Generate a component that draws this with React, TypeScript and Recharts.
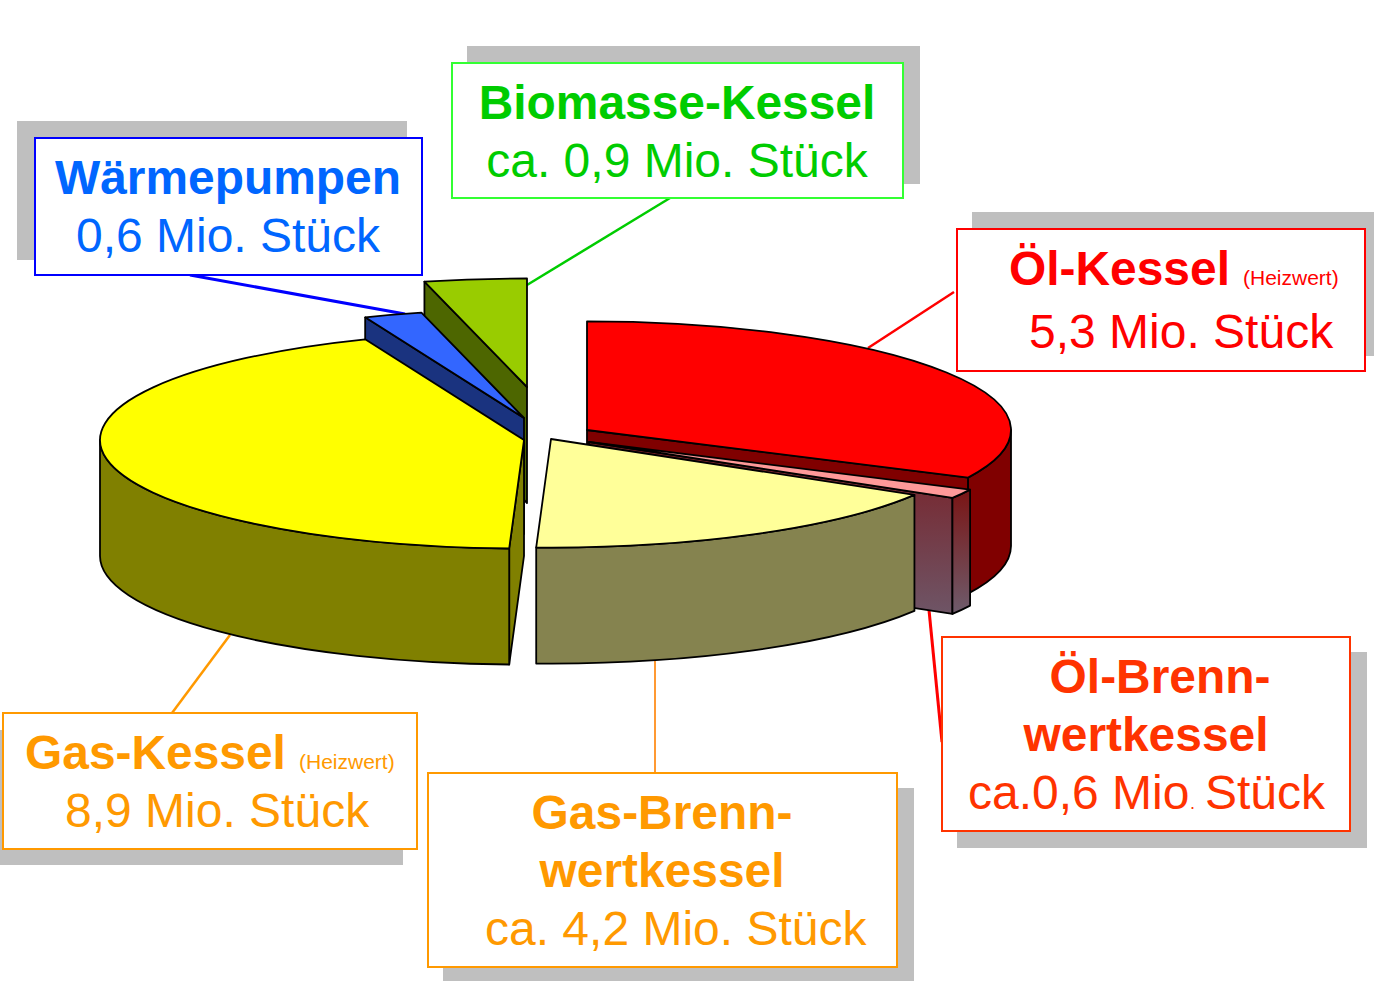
import { PieChart, Pie } from 'recharts';

// share of the circle each slice takes in the picture, in degrees (the drawing is not true to the counts)
const categories = ['Öl-Kessel', 'Öl-Brennwertkessel', 'Gas-Brennwertkessel', 'Gas-Kessel', 'Wärmepumpen', 'Biomasse-Kessel'];
const drawnShares = [116, 5, 61, 156, 8, 14];
const stueckLabels = ['5,3 Mio. Stück', 'ca.0,6 Mio', 'ca. 4,2 Mio. Stück', '8,9 Mio. Stück', '0,6 Mio. Stück', 'ca. 0,9 Mio. Stück'];

const chartData = categories.map((name, i) => ({ name, value: drawnShares[i] }));

const TOP_FILLS = ['#ff0000', '#ff9999', '#ffff99', '#ffff00', '#3366ff', '#99cc00'];
const WALL_FILLS = ['#800000', 'url(#pinkFace)', '#85834f', '#808000', '#1a337f', '#4d6600'];
// how far each slice is pulled out of the pie
const EXPLODE = [[62, -10], [64, 2], [26, -1], [-1, 0], [-1, -22], [2, -53]];
const BACK_TO_FRONT = [5, 4, 3, 0, 1, 2];

const SQUASH = 0.256;
const DEPTH = 116;
const FONT = '"Liberation Sans", Arial, sans-serif';

function Slice3D(props: any) {
  const { cx, cy, outerRadius, startAngle, endAngle, index } = props;
  const rx = outerRadius;
  const ry = outerRadius * SQUASH;
  const ax = cx + EXPLODE[index][0];
  const ay = cy + EXPLODE[index][1];
  const pt = (deg: number) => {
    const r = (deg * Math.PI) / 180;
    return [ax + rx * Math.cos(r), ay - ry * Math.sin(r)];
  };
  const [sx, sy] = pt(startAngle);
  const [ex, ey] = pt(endAngle);
  const large = startAngle - endAngle > 180 ? 1 : 0;
  const line = { stroke: '#000', strokeWidth: 1.8, strokeLinejoin: 'round' as const };
  const wall = WALL_FILLS[index];

  // cut faces that look away from the viewer stay undrawn
  const showStart = Math.cos((startAngle * Math.PI) / 180) < -1e-6;
  const showEnd = Math.cos((endAngle * Math.PI) / 180) > 1e-6;

  const from = Math.min(startAngle, 0);
  const to = Math.max(endAngle, -180);
  let wallPath = '';
  if (from > to) {
    const [x1, y1] = pt(from);
    const [x2, y2] = pt(to);
    wallPath = `M${x1},${y1} A${rx},${ry} 0 0 1 ${x2},${y2} L${x2},${y2 + DEPTH} A${rx},${ry} 0 0 0 ${x1},${y1 + DEPTH} Z`;
  }
  return (
    <g>
      {showStart && <path d={`M${ax},${ay} L${sx},${sy} L${sx},${sy + DEPTH} L${ax},${ay + DEPTH} Z`} fill={wall} {...line} />}
      {showEnd && <path d={`M${ax},${ay} L${ex},${ey} L${ex},${ey + DEPTH} L${ax},${ay + DEPTH} Z`} fill={wall} {...line} />}
      {wallPath && <path d={wallPath} fill={index === 1 ? 'url(#pinkSide)' : wall} {...line} />}
      <path d={`M${ax},${ay} L${sx},${sy} A${rx},${ry} 0 ${large} 1 ${ex},${ey} Z`} fill={TOP_FILLS[index]} {...line} />
    </g>
  );
}

function Box({ x, y, w, h, sx, sy, sw, sh, border }: any) {
  return (
    <g>
      <rect x={sx} y={sy} width={sw} height={sh} fill="#bfbfbf" />
      <rect x={x} y={y} width={w} height={h} fill="#fff" stroke={border} strokeWidth={2} />
    </g>
  );
}

function Txt({ x, y, fill, bold, size, anchor = 'start', children }: any) {
  return (
    <text x={x} y={y} fill={fill} fontFamily={FONT} fontWeight={bold ? 700 : 400} fontSize={size ?? (bold ? 47.9 : 48)} textAnchor={anchor}>
      {children}
    </text>
  );
}

export default function App() {
  return (
    <div style={{ position: 'absolute', left: 0, top: 0, width: 1374, height: 981, overflow: 'hidden', background: '#fff' }}>
      <PieChart width={1374} height={981} margin={{ top: 0, right: 0, bottom: 0, left: 0 }}>
        <defs>
          <linearGradient id="pinkFace" x1="0" y1="0" x2="0" y2="1">
            <stop offset="0%" stopColor="#7a1c22" />
            <stop offset="100%" stopColor="#6e5566" />
          </linearGradient>
          <linearGradient id="pinkSide" x1="0" y1="0" x2="0" y2="1">
            <stop offset="0%" stopColor="#7a1414" />
            <stop offset="100%" stopColor="#6e5c6c" />
          </linearGradient>
        </defs>

        <line x1={670} y1={198} x2={527} y2={285} stroke="#00cc00" strokeWidth={2.5} />
        <line x1={190} y1={275} x2={405} y2={314} stroke="#0000ff" strokeWidth={3} />
        <line x1={954} y1={292} x2={868} y2={348} stroke="#ff0000" strokeWidth={2.5} />
        <line x1={929} y1={610} x2={942} y2={742} stroke="#ff0000" strokeWidth={3} />
        <line x1={655} y1={658} x2={655} y2={773} stroke="#ff9933" strokeWidth={2} />
        <line x1={230} y1={635} x2={172} y2={713} stroke="#ff9900" strokeWidth={2.5} />

        {BACK_TO_FRONT.map((sliceIndex) => (
          <Pie
            key={sliceIndex}
            data={chartData}
            dataKey="value"
            nameKey="name"
            cx={525}
            cy={440}
            innerRadius={0}
            outerRadius={424}
            startAngle={90}
            endAngle={-270}
            paddingAngle={0}
            label={false}
            labelLine={false}
            isAnimationActive={false}
            shape={(p: any) => (p.index === sliceIndex ? <Slice3D {...p} /> : <g />)}
          />
        ))}

        <Box x={35} y={138} w={387} h={137} sx={17} sy={121} sw={390} sh={139} border="#0000ff" />
        <Txt x={228} y={194} fill="#0066ff" bold anchor="middle">{categories[4]}</Txt>
        <Txt x={228} y={252} fill="#0066ff" anchor="middle">{stueckLabels[4]}</Txt>

        <Box x={452} y={63} w={451} h={135} sx={467} sy={46} sw={453} sh={138} border="#33ff33" />
        <Txt x={677} y={119} fill="#00cc00" bold anchor="middle">{categories[5]}</Txt>
        <Txt x={677} y={177} fill="#00cc00" anchor="middle">{stueckLabels[5]}</Txt>

        <Box x={957} y={229} w={408} h={142} sx={972} sy={212} sw={402} sh={144} border="#ff0000" />
        <Txt x={1009} y={285} fill="#ff0000" bold>Öl-Kessel</Txt>
        <Txt x={1243} y={285} fill="#ff0000" size={21}>(Heizwert)</Txt>
        <Txt x={1029} y={348} fill="#ff0000">{stueckLabels[0]}</Txt>

        <Box x={942} y={637} w={408} h={194} sx={957} sy={652} sw={410} sh={196} border="#ff3300" />
        <Txt x={1160} y={693} fill="#ff3300" bold anchor="middle">Öl-Brenn-</Txt>
        <Txt x={1146} y={751} fill="#ff3300" bold anchor="middle">wertkessel</Txt>
        <Txt x={968} y={809} fill="#ff3300">{stueckLabels[1]}</Txt>
        <Txt x={1190} y={809} fill="#ff3300" size={18}>.</Txt>
        <Txt x={1205} y={809} fill="#ff3300">Stück</Txt>

        <Box x={3} y={713} w={414} h={136} sx={0} sy={730} sw={403} sh={135} border="#ff9900" />
        <Txt x={25} y={769} fill="#ff9900" bold>Gas-Kessel</Txt>
        <Txt x={299} y={769} fill="#ff9900" size={21}>(Heizwert)</Txt>
        <Txt x={65} y={827} fill="#ff9900">{stueckLabels[3]}</Txt>

        <Box x={428} y={773} w={469} h={194} sx={443} sy={788} sw={471} sh={193} border="#ff9900" />
        <Txt x={662} y={829} fill="#ff9900" bold anchor="middle">Gas-Brenn-</Txt>
        <Txt x={662} y={887} fill="#ff9900" bold anchor="middle">wertkessel</Txt>
        <Txt x={485} y={945} fill="#ff9900">{stueckLabels[2]}</Txt>
      </PieChart>
    </div>
  );
}
